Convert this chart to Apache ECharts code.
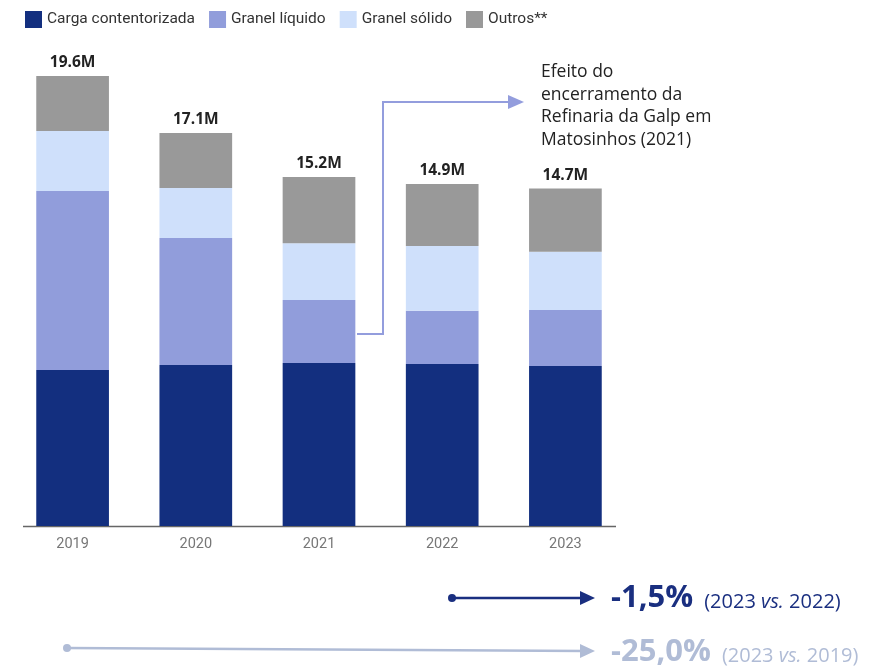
<!DOCTYPE html>
<html><head><meta charset="utf-8">
<script src="https://cdn.jsdelivr.net/npm/echarts@6/dist/echarts.min.js"></script>
<style>html,body{margin:0;padding:0;background:#fff}#c{width:882px;height:667px}</style>
</head><body><div id="c"></div>
<script>
const years = ['2019','2020','2021','2022','2023'];
const cargaContentorizada = [6.79, 7.01, 7.10, 7.06, 6.97];
const granelLiquido = [7.80, 5.53, 2.74, 2.31, 2.44];
const granelSolido = [2.61, 2.18, 2.48, 2.83, 2.53];
const outros = [2.40, 2.40, 2.88, 2.70, 2.76];
const totalLabels = ['19.6M','17.1M','15.2M','14.9M','14.7M'];
const seriesNames = ['Carga contentorizada','Granel líquido','Granel sólido','Outros**'];
const colors = ['#132f7f','#919ddb','#cfe0fb','#999999'];

const chart = echarts.init(document.getElementById('c'));
const values = [cargaContentorizada, granelLiquido, granelSolido, outros];
const series = values.map((v, i) => ({
  name: seriesNames[i], type: 'bar', stack: 't', data: v, barWidth: '59%',
  itemStyle: { color: colors[i] },
  label: i === 3 ? {
    show: true, position: 'top', distance: 5,
    formatter: p => totalLabels[p.dataIndex],
    fontFamily: 'Open Sans', fontWeight: 'bold', fontSize: 15.5, color: '#222'
  } : { show: false }
}));

const rich = (c) => ({
  a: { fontFamily: 'Open Sans', fontWeight: 'bold', fontSize: 31, fill: c },
  b: { fontFamily: 'Open Sans', fontSize: 20, fill: c, padding: [7,0,0,0] },
  s: { fontFamily: 'Open Sans', fontSize: 20, fill: c, padding: [7,0,0,0], width: 11 },
  i: { fontFamily: 'Open Sans', fontStyle: 'italic', fontSize: 20, fill: c, padding: [7,0,0,0] }
});

chart.setOption({
  animation: false,
  color: colors,
  legend: {
    left: 20, top: 6, icon: 'rect', itemWidth: 17, itemHeight: 17, itemGap: 14,
    textStyle: { fontFamily: 'Roboto', fontSize: 15.5, color: '#333' },
    data: seriesNames
  },
  grid: { left: 11, right: 255, top: 66.8, bottom: 141 },
  xAxis: {
    type: 'category', data: years,
    axisLine: { show: false },
    axisTick: { show: false },
    axisLabel: { color: '#777', fontFamily: 'Roboto', fontSize: 14.5, margin: 11 }
  },
  yAxis: { type: 'value', min: 0, max: 20, show: false, splitLine: { show: false } },
  series: series,
  graphic: [
    { type: 'line', shape: { x1: 23, y1: 526.5, x2: 616, y2: 526.5 }, style: { stroke: '#666', lineWidth: 1.5 } },
    { type: 'polyline', shape: { points: [[357,334],[383,334],[383,102],[512,102]] },
      style: { stroke: '#939ddd', lineWidth: 2, fill: null } },
    { type: 'polygon', shape: { points: [[508,95],[524,102],[508,109]] }, style: { fill: '#939ddd' } },
    { type: 'text', left: 541, top: 61,
      style: { text: 'Efeito do\nencerramento da\nRefinaria da Galp em\nMatosinhos (2021)',
        fontFamily: 'Open Sans', fontSize: 17.5, lineHeight: 22.5, fill: '#222' } },
    { type: 'line', shape: { x1: 452, y1: 598, x2: 584, y2: 598 }, style: { stroke: '#1a2f80', lineWidth: 2.5 } },
    { type: 'circle', shape: { cx: 452, cy: 598, r: 4 }, style: { fill: '#1a2f80' } },
    { type: 'polygon', shape: { points: [[580,591],[595,598],[580,605]] }, style: { fill: '#1a2f80' } },
    { type: 'text', left: 611, top: 583,
      style: { text: '{a|-1,5%}{s| }{b|(2023 }{i|vs.}{b| 2022)}', rich: rich('#1a2f80') } },
    { type: 'line', shape: { x1: 67, y1: 648, x2: 584, y2: 651 }, style: { stroke: '#b0bcd6', lineWidth: 2.5 } },
    { type: 'circle', shape: { cx: 67, cy: 648, r: 4 }, style: { fill: '#b0bcd6' } },
    { type: 'polygon', shape: { points: [[580,644],[595,651],[580,658]] }, style: { fill: '#b0bcd6' } },
    { type: 'text', left: 611, top: 637,
      style: { text: '{a|-25,0%}{s| }{b|(2023 }{i|vs.}{b| 2019)}', rich: rich('#b0bcd6') } }
  ]
});
</script></body></html>
